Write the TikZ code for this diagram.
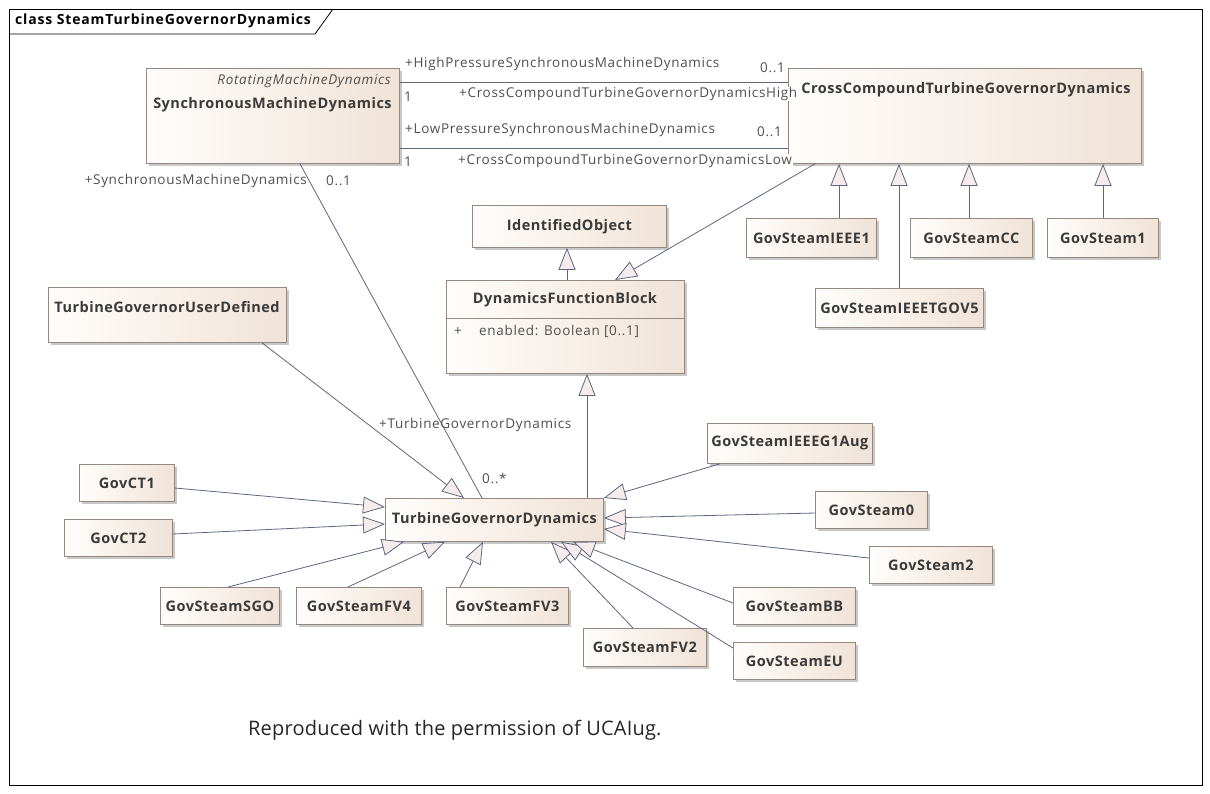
\documentclass[tikz,border=0pt]{standalone}
\usepackage{fontspec}
\setmainfont{Open Sans}
\newfontfamily\lblfam{Open Sans}[LetterSpace=5]
\newfontfamily\namefam{Open Sans}[LetterSpace=3.5]
\newfontfamily\titlefam{Open Sans}[LetterSpace=6]
\newfontfamily\reprofam{Open Sans}[LetterSpace=1]
\usetikzlibrary{arrows.meta,shadows}
\definecolor{linec}{HTML}{5F6680}
\definecolor{borderc}{HTML}{958880}
\definecolor{fillL}{HTML}{FFFDFB}
\definecolor{fillR}{HTML}{F0E3D8}
\definecolor{trifill}{HTML}{F5ECEB}
\definecolor{namec}{HTML}{3A3A3A}
\definecolor{lblc}{HTML}{505050}
\newcommand{\namefont}{\namefam\fontsize{14.5}{16}\selectfont\bfseries}
\newcommand{\lblfont}{\lblfam\fontsize{13.5}{15}\selectfont}
\tikzset{
  cls/.style={draw=borderc, line width=0.8pt, left color=fillL, right color=fillR,
    drop shadow={shadow xshift=3pt, shadow yshift=-3pt, fill=black!30, opacity=0.7},
    anchor=north west, inner sep=0pt, font=\namefont, text=namec},
  nm/.style={font=\namefont, text=namec, inner sep=0pt},
  lbl/.style={font=\lblfont, text=lblc, inner sep=0pt},
  gen/.style={draw=linec, line width=0.8pt, -{Triangle[length=22pt,width=17pt,fill=trifill]}},
  assoc/.style={draw=linec, line width=0.8pt},
}
\begin{document}
\begin{tikzpicture}[x=1pt,y=-1pt]
\useasboundingbox (0,0) rectangle (1210,793);
\fill[white] (0,0) rectangle (1210,793);
% frame
\draw[black, line width=0.8pt] (9,9) rectangle (1202,785);
\draw[black, line width=0.8pt] (9,34) -- (315,34) -- (333,9);
\node[anchor=west, inner sep=0pt, font=\titlefam\fontsize{14}{16}\selectfont\bfseries] (title) at (15,21) {class SteamTurbineGovernorDynamics};

% boxes
\node[cls, minimum width=253pt, minimum height=95pt] (smd) at (146,68) {};
\node[cls, minimum width=353pt, minimum height=95pt] (cctgd) at (788,68) {};
\node[cls, minimum width=194pt, minimum height=42pt] (io) at (472,205) {IdentifiedObject};
\node[cls, minimum width=238pt, minimum height=93pt] (dfb) at (446,280) {};
\node[cls, minimum width=238pt, minimum height=55pt] (tgud) at (48,287) {};
\node[cls, minimum width=130pt, minimum height=39pt] (gsieee1) at (746,218) {GovSteamIEEE1};
\node[cls, minimum width=122pt, minimum height=39pt] (gscc) at (910,218) {GovSteamCC};
\node[cls, minimum width=111pt, minimum height=39pt] (gs1) at (1047,218) {GovSteam1};
\node[cls, minimum width=168pt, minimum height=39pt] (tgov5) at (815,288) {GovSteamIEEETGOV5};
\node[cls, minimum width=218pt, minimum height=43pt] (tgd) at (385,498) {TurbineGovernorDynamics};
\node[cls, minimum width=95pt, minimum height=37pt] (ct1) at (79,464) {GovCT1};
\node[cls, minimum width=108pt, minimum height=37pt] (ct2) at (64,519) {GovCT2};
\node[cls, minimum width=119pt, minimum height=37pt] (sgo) at (160,587) {GovSteamSGO};
\node[cls, minimum width=125pt, minimum height=37pt] (fv4) at (296,587) {GovSteamFV4};
\node[cls, minimum width=122pt, minimum height=37pt] (fv3) at (446,587) {GovSteamFV3};
\node[cls, minimum width=123pt, minimum height=38pt] (fv2) at (583,628) {GovSteamFV2};
\node[cls, minimum width=122pt, minimum height=37pt] (bb) at (733,587) {GovSteamBB};
\node[cls, minimum width=122pt, minimum height=37pt] (eu) at (733,642) {GovSteamEU};
\node[cls, minimum width=165pt, minimum height=40pt] (g1aug) at (707,423) {GovSteamIEEEG1Aug};
\node[cls, minimum width=112pt, minimum height=37pt] (gs0) at (815,491) {GovSteam0};
\node[cls, minimum width=123pt, minimum height=37pt] (gs2) at (869,546) {GovSteam2};

% texts inside big boxes
\node[inner sep=0pt, anchor=east, font=\lblfont\itshape, text=lblc] (smdst) at (391,81) {RotatingMachineDynamics};
\node[nm] (smdname) at (272.5,105) {SynchronousMachineDynamics};
\node[nm] (cctgdname) at (966,90) {CrossCompoundTurbineGovernorDynamics};
\node[nm] (dfbname) at (565,300) {DynamicsFunctionBlock};
\draw[borderc, line width=0.8pt] (dfb.west |- 0,318) -- (dfb.east |- 0,318);
\node[lbl, anchor=west] (dfbplus) at (454,331) {+};
\node[lbl, anchor=west] (dfbattr) at (479,331) {enabled: Boolean [0..1]};
\node[nm] (tgudname) at (167,307) {TurbineGovernorUserDefined};

% associations
\draw[assoc] ([yshift=-14pt]smd.north east) -- ([yshift=-14pt]cctgd.north west);
\draw[assoc] ([yshift=-80pt]smd.north east) -- ([yshift=-80pt]cctgd.north west);
\draw[assoc] ([xshift=154pt]smd.south west) -- ([xshift=97pt]tgd.north west);

% generalizations
\draw[gen] ([xshift=27pt]cctgd.south west) -- ([xshift=169pt]dfb.north west);
\draw[gen] ([xshift=121pt]dfb.north west) -- ([xshift=121pt]dfb.north west |- io.south);
\draw[gen] ([xshift=202pt]tgd.north west) -- ([xshift=202pt]tgd.north west |- dfb.south);
\draw[gen] ([xshift=93pt]gsieee1.north west) -- ([xshift=93pt]gsieee1.north west |- cctgd.south);
\draw[gen] ([xshift=84pt]tgov5.north west) -- ([xshift=84pt]tgov5.north west |- cctgd.south);
\draw[gen] ([xshift=59pt]gscc.north west) -- ([xshift=59pt]gscc.north west |- cctgd.south);
\draw[gen] ([xshift=56pt]gs1.north west) -- ([xshift=56pt]gs1.north west |- cctgd.south);

\draw[gen] ([xshift=214pt]tgud.south west) -- ([xshift=79pt]tgd.north west);
\draw[gen] ([yshift=-24pt]ct1.north east) -- ([yshift=-9pt]tgd.north west);
\draw[gen] ([yshift=-15pt]ct2.north east) -- ([yshift=-26pt]tgd.north west);
\draw[gen] ([xshift=68pt]sgo.north west) -- ([xshift=19pt]tgd.south west);
\draw[gen] ([xshift=52pt]fv4.north west) -- ([xshift=60pt]tgd.south west);
\draw[gen] ([xshift=14pt]fv3.north west) -- ([xshift=98pt]tgd.south west);
\draw[gen] ([xshift=50pt]fv2.north west) -- ([xshift=166pt]tgd.south west);
\draw[gen] ([yshift=-6pt]eu.north west) -- ([xshift=176pt]tgd.south west);
\draw[gen] ([yshift=-16pt]bb.north west) -- ([xshift=188pt]tgd.south west);
\draw[gen] ([xshift=13pt]g1aug.south west) -- (tgd.north east);
\draw[gen] ([yshift=-22pt]gs0.north west) -- ([yshift=-20pt]tgd.north east);
\draw[gen] ([yshift=-12pt]gs2.north west) -- ([yshift=-31pt]tgd.north east);

% labels
\node[lbl, anchor=west] (l1) at (405,64) {+HighPressureSynchronousMachineDynamics};
\node[lbl, anchor=east] (l2) at (785,68) {0..1};
\node[lbl, anchor=west] (l3) at (404,97) {1};
\node[lbl, anchor=west, fill=white, inner xsep=1pt] (l4) at (458,94) {+CrossCompoundTurbineGovernorDynamicsHigh};
\node[lbl, anchor=west] (l5) at (405,130) {+LowPressureSynchronousMachineDynamics};
\node[lbl, anchor=east] (l6) at (782,132) {0..1};
\node[lbl, anchor=west] (l7) at (404,162) {1};
\node[lbl, anchor=west, fill=white, inner xsep=1pt] (l8) at (457,161) {+CrossCompoundTurbineGovernorDynamicsLow};
\node[lbl, anchor=east] (l9) at (307,181) {+SynchronousMachineDynamics};
\node[lbl, anchor=west] (l10) at (326,181) {0..1};
\node[lbl, anchor=west] (l11) at (379,425) {+TurbineGovernorDynamics};
\node[lbl, anchor=west] (l12) at (482,478) {0..*};

\node[anchor=west, inner sep=0pt, font=\reprofam\fontsize{20}{22}\selectfont, text=black!85] (repro) at (248,730) {Reproduced with the permission of UCAIug.};
\end{tikzpicture}
\end{document}
